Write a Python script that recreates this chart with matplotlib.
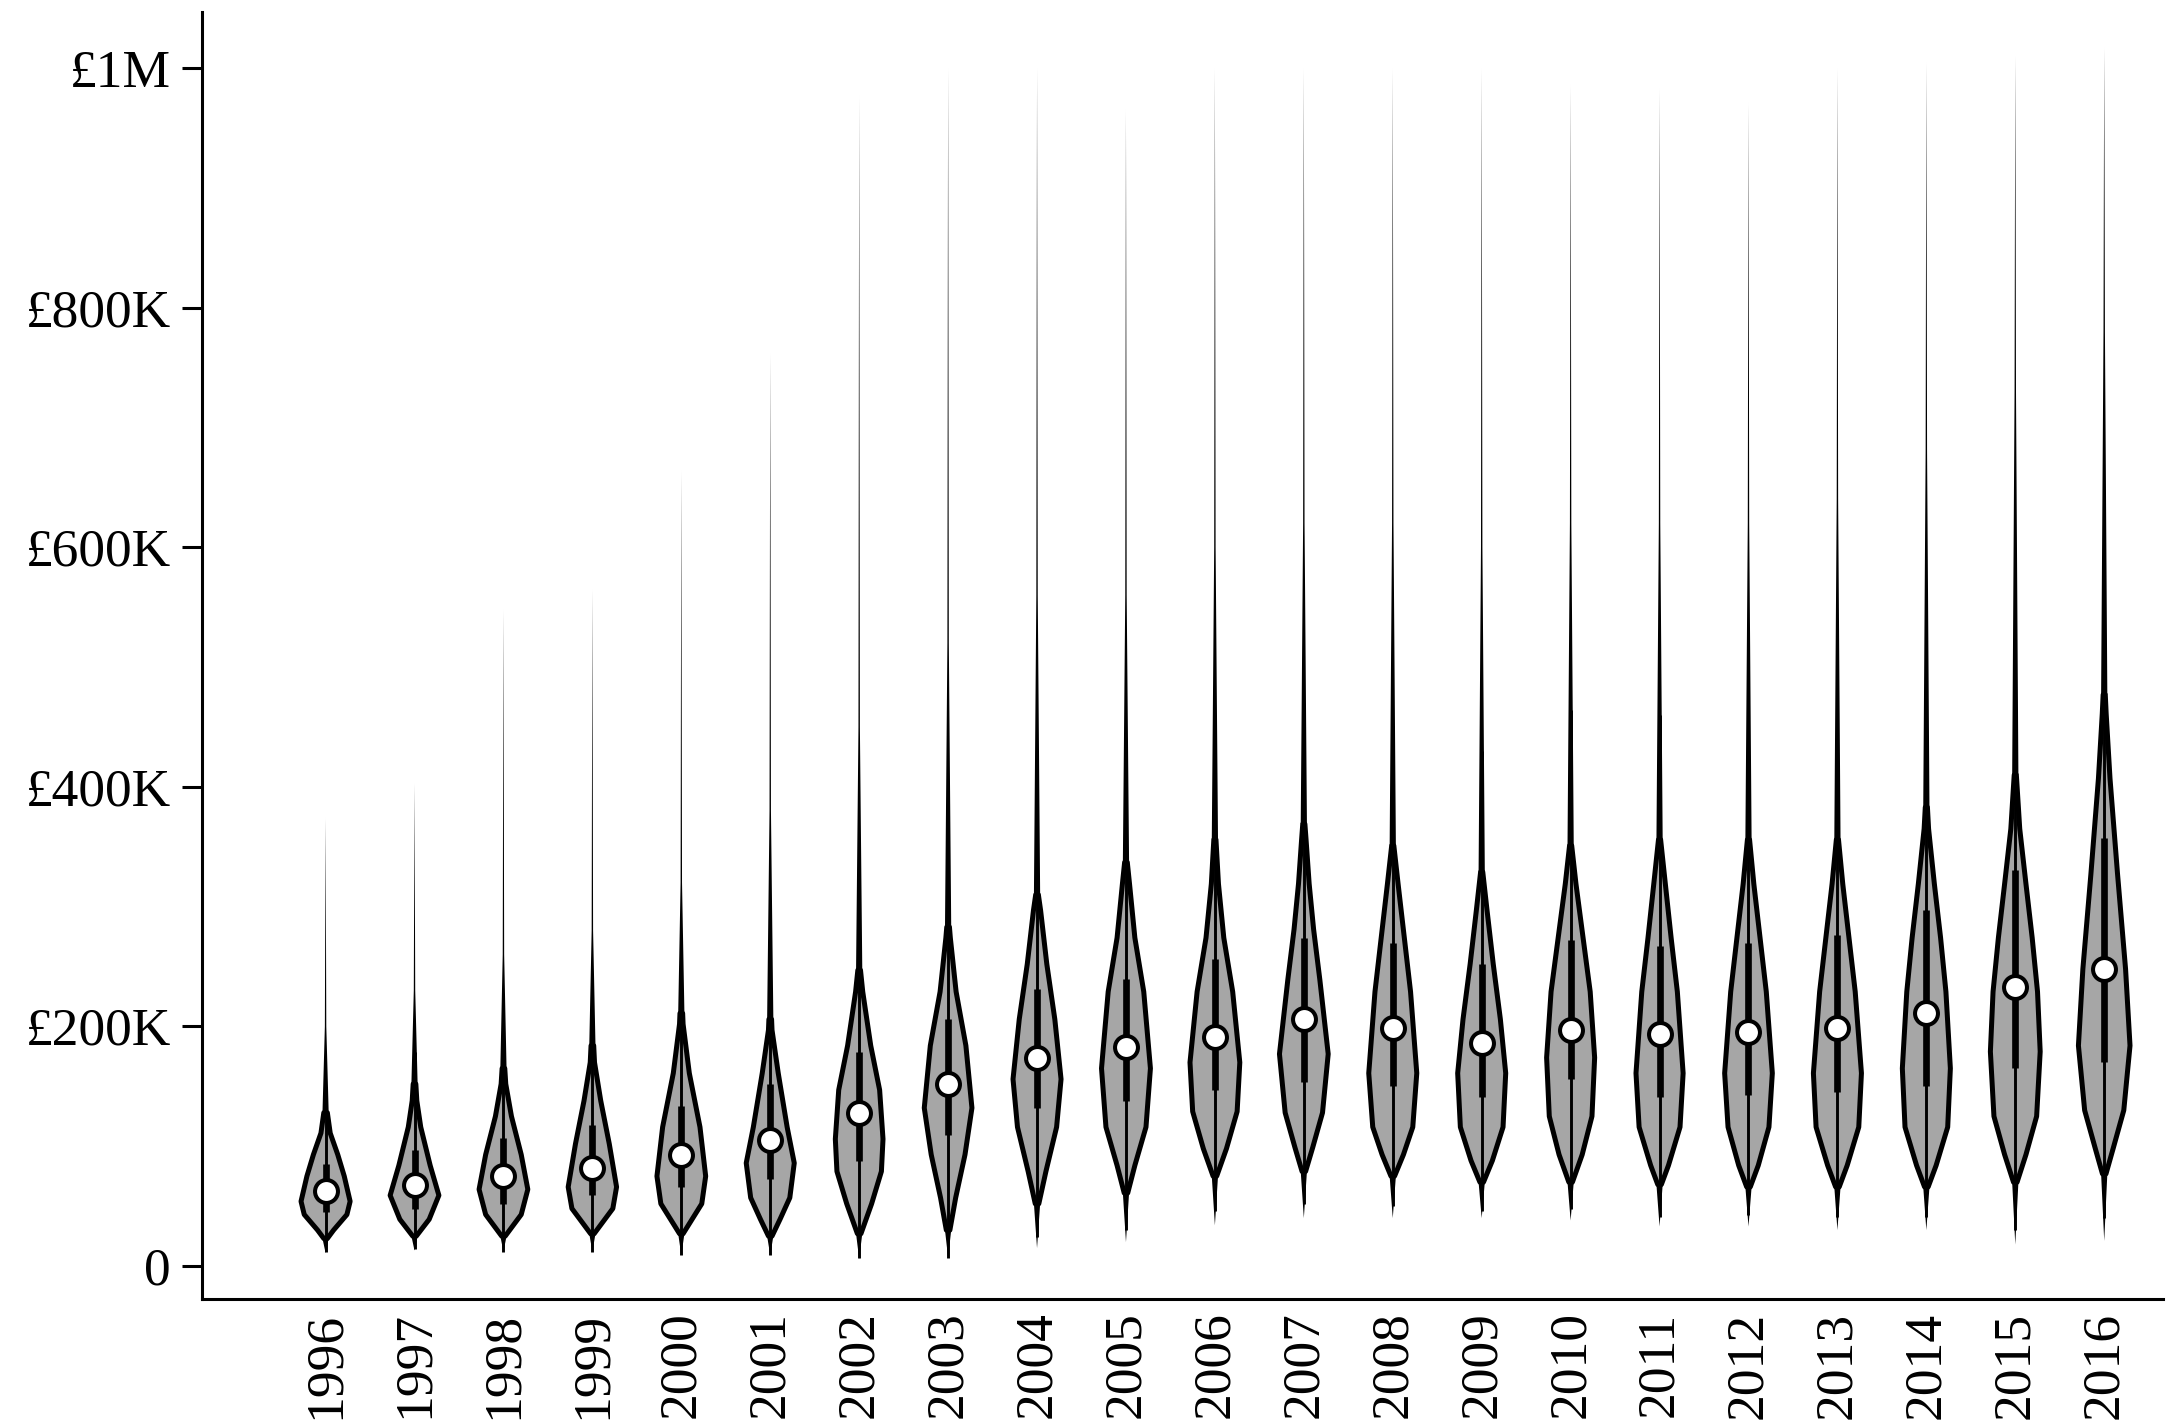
import numpy as np
import matplotlib
matplotlib.use('Agg')
import matplotlib.pyplot as plt

## Data (prices in £K)
years = ['1996', '1997', '1998', '1999', '2000', '2001', '2002', '2003', '2004', '2005', '2006',
         '2007', '2008', '2009', '2010', '2011', '2012', '2013', '2014', '2015', '2016']

medians  = [63, 68, 75, 82, 93, 105, 128, 152, 174, 183, 191, 206, 199, 186, 197, 194, 195, 199, 211, 233, 248]
q1       = [45, 48, 52, 59, 66, 73, 88, 109, 132, 138, 147, 154, 150, 141, 156, 141, 143, 145, 150, 165, 170]
q3       = [85, 97, 107, 118, 134, 152, 179, 206, 231, 240, 256, 274, 270, 252, 272, 267, 270, 276, 297, 331, 357]
whisk_lo = [12, 14, 12, 12, 9, 9, 7, 7, 24, 30, 46, 52, 50, 46, 48, 41, 43, 41, 41, 30, 40]
whisk_hi = [145, 179, 193, 206, 233, 270, 310, 352, 380, 392, 419, 451, 451, 430, 464, 460, 460, 473, 510, 578, 636]

# lowest point of each violin, and where the upper tail thins out / ends
bottom_tip = [11, 13, 12, 12, 9, 9, 6, 7, 15, 20, 34, 40, 40, 40, 38, 33, 33, 30, 30, 18, 21]
tail_mid   = [200, 230, 260, 280, 320, 380, 450, 520, 560, 560, 600, 620, 620, 600, 620, 620, 620, 640, 680, 730, 780]
tail_top   = [374, 403, 548, 565, 664, 762, 977, 1000, 1000, 965, 1000, 1000, 1000, 1000, 986, 983, 971, 1000, 1005, 1010, 1017]

# violin outline: (price, half width) from the lower neck up to the shoulder
profiles = [
    [(23, .02), (30, .09), (43, .24), (54, .276), (75, .21), (93, .137), (111, .052), (128, .02)],
    [(25, .02), (39, .165), (59, .274), (84, .176), (116, .07), (138, .026), (152, .015)],
    [(25, .02), (43, .2), (64, .274), (93, .2), (125, .09), (152, .026), (165, .015)],
    [(27, .02), (48, .23), (66, .272), (102, .19), (138, .094), (170, .024), (184, .015)],
    [(27, .02), (52, .23), (75, .274), (116, .21), (161, .09), (202, .02), (211, .015)],
    [(25, .02), (39, .11), (57, .22), (86, .27), (116, .19), (161, .09), (197, .02), (206, .015)],
    [(27, .02), (52, .14), (79, .25), (106, .268), (147, .23), (184, .13), (229, .04), (247, .015)],
    [(30, .02), (57, .085), (93, .19), (132, .268), (184, .2), (229, .09), (274, .025), (283, .015)],
    [(52, .02), (79, .1), (116, .22), (156, .27), (206, .2), (252, .11), (297, .04), (310, .015)],
    [(61, .02), (84, .1), (116, .225), (165, .275), (229, .2), (274, .1), (319, .04), (337, .015)],
    [(75, .02), (98, .13), (129, .25), (170, .28), (229, .2), (274, .1), (319, .04), (356, .012)],
    [(79, .02), (99, .1), (128, .21), (177, .274), (239, .18), (281, .11), (319, .06), (356, .025), (369, .012)],
    [(75, .02), (93, .12), (116, .225), (161, .27), (229, .2), (274, .13), (319, .06), (351, .012)],
    [(70, .02), (88, .12), (116, .24), (161, .27), (206, .21), (252, .13), (297, .06), (329, .012)],
    [(70, .02), (93, .13), (125, .24), (174, .27), (229, .22), (274, .14), (319, .06), (351, .012)],
    [(68, .02), (84, .1), (116, .23), (161, .265), (229, .2), (274, .13), (319, .065), (356, .012)],
    [(66, .02), (84, .11), (116, .23), (161, .268), (229, .2), (274, .13), (319, .06), (356, .012)],
    [(66, .02), (84, .11), (116, .24), (161, .27), (229, .2), (274, .13), (319, .06), (356, .012)],
    [(66, .02), (84, .11), (116, .24), (165, .27), (229, .22), (274, .16), (319, .09), (365, .025), (383, .012)],
    [(70, .02), (93, .12), (125, .24), (179, .28), (229, .25), (274, .19), (319, .12), (365, .05), (410, .012)],
    [(77, .02), (98, .1), (130, .22), (184, .29), (248, .24), (327, .15), (407, .065), (461, .022), (477, .012)],
]

ytick_vals   = [0, 200, 400, 600, 800, 1000]
ytick_labels = ['0', '£200K', '£400K', '£600K', '£800K', '£1M']

## Plot
plt.rcParams['font.family'] = ['Liberation Serif', 'DejaVu Serif']

fig = plt.figure(figsize=(21.74, 14.22), dpi=100)
ax = fig.add_axes([0.0929, 0.0865, 0.902, 0.905])

for i, prof in enumerate(profiles):
    v = np.array([p[0] for p in prof], dtype=float)
    w = np.array([p[1] for p in prof], dtype=float)

    # body
    ax.fill(np.concatenate([i - w, (i + w)[::-1]]), np.concatenate([v, v[::-1]]),
            facecolor='#a6a6a6', edgecolor='black', linewidth=3.6, joinstyle='round', zorder=2)

    # thin tail on top and spike below (no outline, so they fade out)
    tv = np.array([v[-1], tail_mid[i], tail_top[i]], dtype=float)
    tw = np.array([0.035, 0.008, 0.0])
    ax.fill(np.concatenate([i - tw, (i + tw)[::-1]]), np.concatenate([tv, tv[::-1]]),
            facecolor='black', edgecolor='none', zorder=2)
    bv = np.array([bottom_tip[i], v[0]], dtype=float)
    bw = np.array([0.0, 0.035])
    ax.fill(np.concatenate([i - bw, (i + bw)[::-1]]), np.concatenate([bv, bv[::-1]]),
            facecolor='black', edgecolor='none', zorder=2)

    # inner box
    ax.plot([i, i], [whisk_lo[i], whisk_hi[i]], color='black', lw=2.1, solid_capstyle='butt', zorder=3)
    ax.plot([i, i], [q1[i], q3[i]], color='black', lw=4.8, solid_capstyle='butt', zorder=3)
    ax.plot(i, medians[i], 'o', ms=16.5, mfc='white', mec='black', mew=2.9, zorder=4)

ax.set_xlim(-1.39, 20.66)
ax.set_ylim(-27.5, 1046.7)

ax.set_xticks(range(len(years)))
ax.set_xticklabels(years, rotation=90, fontsize=38.5)
ax.tick_params(axis='x', length=0, pad=9)

ax.set_yticks(ytick_vals)
ax.set_yticklabels(ytick_labels, fontsize=38.5)
ax.tick_params(axis='y', length=14.4, width=2.2, pad=8)

for side in ['top', 'right']:
    ax.spines[side].set_visible(False)
for side in ['left', 'bottom']:
    ax.spines[side].set_linewidth(2.2)

fig.savefig('out.png', dpi=100)
